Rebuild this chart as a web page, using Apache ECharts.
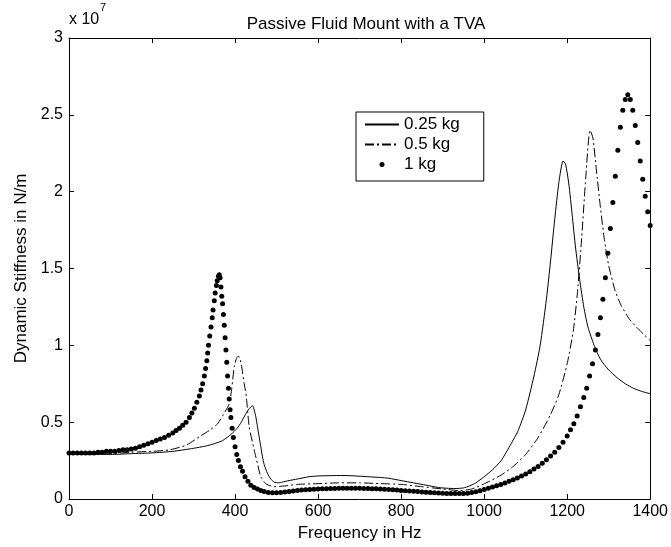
<!DOCTYPE html>
<html>
<head>
<meta charset="utf-8">
<script src="https://cdn.jsdelivr.net/npm/echarts@6/dist/echarts.min.js"></script>
<style>
  html, body { margin: 0; padding: 0; background: #fff; }
  #chart { width: 671px; height: 547px; }
</style>
</head>
<body>
<div id="chart"></div>
<script>
// values in units of 1e7 N/m, frequency in Hz
const legendNames = ['0.25 kg', '0.5 kg', '1 kg'];
const xTicks = [0, 200, 400, 600, 800, 1000, 1200, 1400];
const yTicks = [0, 0.5, 1, 1.5, 2, 2.5, 3];

const mass025 = [
  [0, 0.29], [100, 0.29], [150, 0.295], [200, 0.30], [250, 0.31], [300, 0.33],
  [330, 0.345], [350, 0.36], [370, 0.38], [390, 0.42], [405, 0.46], [415, 0.50],
  [425, 0.55], [432, 0.58], [438, 0.60], [442, 0.607], [446, 0.58], [450, 0.535],
  [454, 0.47], [458, 0.405], [462, 0.34], [466, 0.275], [470, 0.225], [478, 0.167],
  [486, 0.13], [494, 0.11], [504, 0.105], [514, 0.11], [530, 0.12], [550, 0.13],
  [578, 0.145], [600, 0.15], [630, 0.152], [660, 0.153], [690, 0.15], [720, 0.145],
  [750, 0.14], [770, 0.135], [800, 0.12], [830, 0.105], [860, 0.09], [890, 0.075],
  [910, 0.07], [930, 0.068], [950, 0.072], [965, 0.085], [980, 0.105], [1000, 0.145],
  [1020, 0.19], [1041, 0.25], [1065, 0.36], [1081, 0.44], [1100, 0.58], [1120, 0.80],
  [1135, 1.0], [1150, 1.3], [1160, 1.55], [1170, 1.82], [1180, 2.06], [1190, 2.2],
  [1196, 2.18], [1204, 2.05], [1212, 1.85], [1220, 1.64], [1230, 1.43], [1240, 1.25],
  [1250, 1.12], [1265, 1.0], [1280, 0.91], [1300, 0.84], [1320, 0.79], [1340, 0.75],
  [1360, 0.72], [1380, 0.70], [1400, 0.685]
];

const mass05 = [
  [0, 0.29], [100, 0.295], [150, 0.305], [200, 0.31], [242, 0.32], [282, 0.35],
  [314, 0.405], [340, 0.45], [358, 0.49], [372, 0.55], [386, 0.62], [392, 0.72],
  [398, 0.86], [404, 0.92], [408, 0.93], [412, 0.91], [416, 0.86], [422, 0.75],
  [427, 0.67], [434, 0.47], [446, 0.32], [454, 0.23], [462, 0.145], [474, 0.10],
  [494, 0.08], [520, 0.085], [550, 0.095], [600, 0.10], [650, 0.105], [700, 0.105],
  [750, 0.10], [800, 0.095], [850, 0.08], [900, 0.065], [940, 0.055], [970, 0.065],
  [1001, 0.10], [1041, 0.156], [1069, 0.21], [1100, 0.29], [1130, 0.40], [1160, 0.55],
  [1180, 0.68], [1200, 0.88], [1215, 1.1], [1225, 1.35], [1235, 1.7], [1245, 2.1],
  [1255, 2.4], [1262, 2.35], [1270, 2.15], [1280, 1.9], [1290, 1.68], [1300, 1.52],
  [1315, 1.36], [1330, 1.26], [1350, 1.17], [1370, 1.11], [1385, 1.07], [1400, 1.03]
];

const mass1 = [
  [0, 0.30], [10, 0.30], [20, 0.30], [30, 0.30], [40, 0.30], [50, 0.30], [60, 0.30],
  [70, 0.305], [80, 0.305], [90, 0.31], [100, 0.31], [110, 0.31], [120, 0.315],
  [130, 0.32], [140, 0.32], [150, 0.325], [160, 0.33], [170, 0.34], [180, 0.35],
  [190, 0.36], [200, 0.37], [210, 0.38], [220, 0.39], [230, 0.40], [240, 0.415],
  [250, 0.43], [258, 0.445], [266, 0.46], [274, 0.48], [282, 0.50], [290, 0.53],
  [296, 0.56], [302, 0.59], [308, 0.63], [314, 0.67], [318, 0.71], [322, 0.75],
  [326, 0.80], [329, 0.85], [332, 0.90], [334, 0.95], [336, 1.00], [339, 1.06],
  [342, 1.12], [345, 1.18], [347, 1.23], [350, 1.29], [352, 1.34], [355, 1.39],
  [357, 1.42], [360, 1.45], [362, 1.46], [364, 1.44], [366, 1.38], [368, 1.32],
  [370, 1.27], [372, 1.20], [374, 1.13], [376, 1.05], [378, 0.97], [380, 0.89],
  [382, 0.80], [384, 0.72], [386, 0.65], [388, 0.58], [390, 0.53], [393, 0.46],
  [396, 0.40], [400, 0.34], [404, 0.29], [408, 0.25], [413, 0.21], [418, 0.18],
  [424, 0.145], [431, 0.115], [438, 0.09], [446, 0.075], [454, 0.065], [462, 0.055],
  [470, 0.048], [480, 0.042], [490, 0.04], [500, 0.04], [510, 0.042], [520, 0.045],
  [530, 0.048], [540, 0.052], [550, 0.055], [560, 0.058], [570, 0.06], [580, 0.062],
  [590, 0.064], [600, 0.065], [610, 0.066], [620, 0.067], [630, 0.068], [640, 0.069],
  [650, 0.07], [660, 0.07], [670, 0.07], [680, 0.07], [690, 0.07], [700, 0.07],
  [710, 0.069], [720, 0.068], [730, 0.067], [740, 0.066], [750, 0.065], [760, 0.064],
  [770, 0.062], [780, 0.06], [790, 0.058], [800, 0.056], [810, 0.054], [820, 0.052],
  [830, 0.05], [840, 0.048], [850, 0.046], [860, 0.044], [870, 0.042], [880, 0.04],
  [890, 0.039], [900, 0.037], [910, 0.036], [920, 0.035], [930, 0.035], [940, 0.035],
  [950, 0.036], [960, 0.038], [970, 0.042], [980, 0.047], [990, 0.054], [1000, 0.062],
  [1010, 0.07], [1020, 0.078], [1030, 0.086], [1040, 0.095], [1050, 0.104],
  [1060, 0.115], [1070, 0.126], [1080, 0.137], [1090, 0.15], [1100, 0.163],
  [1110, 0.178], [1120, 0.195], [1130, 0.212], [1140, 0.232], [1150, 0.255],
  [1160, 0.28], [1170, 0.305], [1180, 0.335], [1190, 0.37], [1200, 0.41],
  [1208, 0.45], [1216, 0.49], [1224, 0.54], [1232, 0.60], [1240, 0.66], [1247, 0.72],
  [1254, 0.80], [1261, 0.88], [1268, 0.97], [1274, 1.07], [1280, 1.18], [1286, 1.30],
  [1292, 1.44], [1298, 1.60], [1304, 1.76], [1310, 1.93], [1316, 2.10], [1322, 2.27],
  [1328, 2.42], [1334, 2.53], [1340, 2.60], [1346, 2.63], [1352, 2.60], [1358, 2.53],
  [1364, 2.43], [1370, 2.32], [1376, 2.20], [1382, 2.08], [1388, 1.97], [1394, 1.87],
  [1400, 1.78]
];

const font = 'Liberation Sans';
const chart = echarts.init(document.getElementById('chart'), null, { renderer: 'canvas' });

function boxAxis(pos, isX, showLabel) {
  return {
    type: 'value',
    position: pos,
    min: isX ? xTicks[0] : yTicks[0],
    max: isX ? xTicks[xTicks.length - 1] : yTicks[yTicks.length - 1],
    interval: isX ? 200 : 0.5,
    axisLine: { show: true, onZero: false, lineStyle: { color: '#000', width: 1 } },
    axisTick: { show: true, inside: true, length: 5, lineStyle: { color: '#000' } },
    axisLabel: {
      show: showLabel, color: '#000', fontFamily: font, fontSize: 16,
      margin: isX ? 5 : 6,
      formatter: v => String(v)
    },
    splitLine: { show: false }
  };
}

const xMain = boxAxis('bottom', true, true);
xMain.name = 'Frequency in Hz';
xMain.nameLocation = 'middle';
xMain.nameGap = 25;
xMain.nameTextStyle = { color: '#000', fontFamily: font, fontSize: 17 };

const yMain = boxAxis('left', false, true);
yMain.name = 'Dynamic Stiffness in N/m';
yMain.nameLocation = 'middle';
yMain.nameGap = 38;
yMain.nameTextStyle = { color: '#000', fontFamily: font, fontSize: 17 };

// line entries: hide the centre marker ECharts adds to line legend icons
const noMark = { color: 'rgba(0,0,0,0)', borderWidth: 0, opacity: 0 };

chart.setOption({
  animation: false,
  backgroundColor: '#fff',
  title: {
    text: 'Passive Fluid Mount with a TVA',
    left: 361, top: 11, textAlign: 'center',
    textStyle: { color: '#000', fontFamily: font, fontSize: 17, fontWeight: 'normal' }
  },
  grid: { left: 69, right: 18, top: 38, bottom: 48 },
  xAxis: [xMain, boxAxis('top', true, false)],
  yAxis: [yMain, boxAxis('right', false, false)],
  legend: {
    data: [
      { name: legendNames[0], itemStyle: noMark },
      { name: legendNames[1], itemStyle: noMark },
      { name: legendNames[2], icon: 'circle' }
    ],
    orient: 'vertical',
    left: 356, top: 112,
    padding: [4, 24, 8, 8],
    itemGap: 3,
    itemWidth: 34,
    itemHeight: 5,
    borderColor: '#000',
    borderWidth: 1,
    backgroundColor: '#fff',
    textStyle: { color: '#000', fontFamily: font, fontSize: 17 }
  },
  graphic: [
    { type: 'text', left: 69, top: 12, style: { text: 'x 10', font: '16px "Liberation Sans"', fill: '#000' } },
    { type: 'text', left: 100, top: 2, style: { text: '7', font: '11px "Liberation Sans"', fill: '#000' } }
  ],
  series: [
    {
      name: legendNames[0], type: 'line', data: mass025, showSymbol: false, symbol: 'none',
      smooth: 0.2, lineStyle: { color: '#000', width: 1 }, itemStyle: { color: '#000' }
    },
    {
      name: legendNames[1], type: 'line', data: mass05, showSymbol: false, symbol: 'none',
      smooth: 0.2, lineStyle: { color: '#000', width: 1, type: [9, 3, 2, 3] }, itemStyle: { color: '#000' }
    },
    {
      name: legendNames[2], type: 'scatter', data: mass1, symbol: 'circle', symbolSize: 5,
      itemStyle: { color: '#000', opacity: 1 }
    }
  ]
});
</script>
</body>
</html>
